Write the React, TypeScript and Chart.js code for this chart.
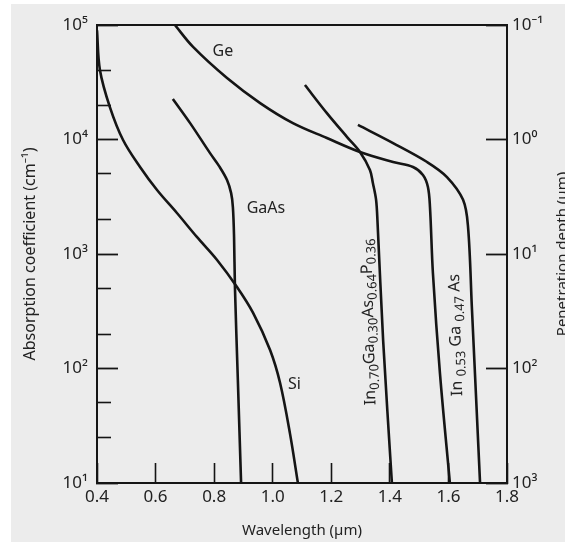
import React, { useEffect, useRef } from "react";
import { Chart, registerables } from "chart.js";

Chart.register(...registerables);

// ---- data (wavelength in µm, absorption coefficient in cm^-1) ----
const siX = [0.4, 0.41, 0.444, 0.489, 0.547, 0.605, 0.673, 0.741, 0.81, 0.878, 0.933, 0.991, 1.025, 1.059, 1.086];
const siY = [90000, 40500, 19200, 9900, 5750, 3620, 2280, 1410, 887, 515, 306, 145, 75, 27, 10];

const gaasX = [0.659, 0.718, 0.786, 0.817, 0.844, 0.858, 0.864, 0.868, 0.871, 0.881, 0.892];
const gaasY = [22600, 13900, 7600, 5860, 4430, 3400, 2570, 1410, 515, 79, 10];

const geX = [0.666, 0.728, 0.844, 0.957, 1.069, 1.185, 1.298, 1.411, 1.479, 1.513, 1.53, 1.537, 1.547, 1.571, 1.605];
const geY = [100000, 64300, 34400, 20800, 13900, 10300, 7780, 6360, 5750, 4900, 3850, 2570, 682, 91, 10];

const ingaaspX = [1.11, 1.185, 1.254, 1.298, 1.332, 1.342, 1.353, 1.358, 1.377, 1.407];
const ingaaspY = [29900, 17000, 10500, 7780, 5420, 4170, 2970, 1870, 177, 10];

const ingaasX = [1.291, 1.411, 1.527, 1.595, 1.65, 1.667, 1.68, 1.708];
const ingaasY = [13400, 9300, 6360, 4700, 2970, 1720, 344, 10];

// ---- axes ----
const xTickValues = [0.4, 0.6, 0.8, 1.0, 1.2, 1.4, 1.6, 1.8];
const yTickValues = [10, 100, 1000, 10000, 100000];
const yTickLabels = ["10¹", "10²", "10³", "10⁴", "10⁵"];
const yMinorValues = [25, 50, 200, 500, 2000, 5000, 20000, 40000];
const depthTickValues = [0.1, 1, 10, 100, 1000];
const depthTickLabels = ["10⁻¹", "10⁰", "10¹", "10²", "10³"];

// ---- curve labels ----
const labelParts: [string, number][][] = [
  [["Ge", 0]],
  [["GaAs", 0]],
  [["Si", 0]],
  [["In", 0], ["0.70", 1], ["Ga", 0], ["0.30", 1], ["As", 0], ["0.64", 1], ["P", 0], ["0.36", 1]],
  [["In ", 0], ["0.53", 1], [" Ga ", 0], ["0.47", 1], [" As", 0]],
];
const labelX = [0.83, 0.977, 1.074, 1.324, 1.622];
const labelY = [60000, 2550, 74, 255, 196];
const labelAngle = [0, 0, 0, -91.5, -91.5];

const FONT = "'Noto Sans', 'DejaVu Sans', sans-serif";
const INK = "#151515";
const TEXT = "#222222";

function toPoints(xs: number[], ys: number[]) {
  return xs.map((x, i) => ({ x, y: ys[i] }));
}

function noPad(s: any) {
  s.paddingTop = 0;
  s.paddingBottom = 0;
  s.paddingLeft = 0;
  s.paddingRight = 0;
}

export default function App() {
  const ref = useRef<HTMLCanvasElement>(null);

  useEffect(() => {
    document.body.style.margin = "0";
    const canvas = ref.current!;

    const bgPlugin = {
      id: "bg",
      beforeDraw(chart: any) {
        const { ctx, width, height } = chart;
        ctx.save();
        ctx.fillStyle = "#ffffff";
        ctx.fillRect(0, 0, width, height);
        ctx.fillStyle = "#ececec";
        ctx.fillRect(11, 4, width - 11, height - 4);
        ctx.restore();
      },
    };

    const labelPlugin = {
      id: "curveLabels",
      afterDatasetsDraw(chart: any) {
        const { ctx } = chart;
        const xs = chart.scales.x;
        const ys = chart.scales.y;
        labelParts.forEach((parts, i) => {
          const px = xs.getPixelForValue(labelX[i]);
          const py = ys.getPixelForValue(labelY[i]);
          ctx.save();
          ctx.translate(px, py);
          ctx.rotate((labelAngle[i] * Math.PI) / 180);
          ctx.fillStyle = TEXT;
          ctx.textAlign = "left";
          ctx.textBaseline = "alphabetic";
          let total = 0;
          const widths = parts.map(([t, sub]) => {
            ctx.font = `${sub ? 13 : 16}px ${FONT}`;
            const w = ctx.measureText(t).width;
            total += w;
            return w;
          });
          let cx = -total / 2;
          parts.forEach(([t, sub], j) => {
            ctx.font = `${sub ? 13 : 16}px ${FONT}`;
            ctx.fillText(t, cx, sub ? 9.7 : 5.7);
            cx += widths[j];
          });
          ctx.restore();
        });
      },
      afterDraw(chart: any) {
        const { ctx, chartArea } = chart;
        ctx.save();
        ctx.translate(567, (chartArea.top + chartArea.bottom) / 2);
        ctx.rotate(-Math.PI / 2);
        ctx.font = `15px ${FONT}`;
        ctx.fillStyle = TEXT;
        ctx.textAlign = "center";
        ctx.textBaseline = "alphabetic";
        ctx.fillText("Penetration depth (µm)", 0, 0);
        ctx.restore();
      },
    };

    const lineDs = (label: string, xs: number[], ys: number[]) => ({
      label,
      data: toPoints(xs, ys),
      borderColor: INK,
      borderWidth: 2.6,
      pointRadius: 0,
      tension: 0.35,
      xAxisID: "x",
      yAxisID: "y",
    });

    const chart = new Chart(canvas, {
      type: "line",
      data: {
        datasets: [
          lineDs("Si", siX, siY),
          lineDs("GaAs", gaasX, gaasY),
          lineDs("Ge", geX, geY),
          lineDs("In0.70Ga0.30As0.64P0.36", ingaaspX, ingaaspY),
          lineDs("In0.53Ga0.47As", ingaasX, ingaasY),
        ],
      },
      options: {
        animation: false,
        responsive: false,
        layout: { padding: 0 },
        plugins: { legend: { display: false }, tooltip: { enabled: false } },
        font: { family: FONT },
        scales: {
          x: {
            type: "linear",
            position: "bottom",
            min: 0.4,
            max: 1.8,
            afterFit: (s: any) => {
              s.height = 59;
              noPad(s);
            },
            afterBuildTicks: (s: any) => {
              s.ticks = xTickValues.map((v) => ({ value: v }));
            },
            ticks: {
              autoSkip: false,
              maxRotation: 0,
              padding: 24,
              color: TEXT,
              font: { family: FONT, size: 17 },
              callback: (v: any) => Number(v).toFixed(1),
            },
            grid: { display: true, drawOnChartArea: false, drawTicks: true, tickLength: -20, tickWidth: 1.6, tickColor: INK },
            border: { display: true, width: 2, color: INK },
            title: {
              display: true,
              text: "Wavelength (µm)",
              color: TEXT,
              font: { family: FONT, size: 15 },
              padding: { top: 0, bottom: 2 },
            },
          },
          xTop: {
            type: "linear",
            position: "top",
            min: 0.4,
            max: 1.8,
            afterFit: (s: any) => {
              s.height = 25;
              noPad(s);
            },
            ticks: { display: false },
            grid: { display: false },
            border: { display: true, width: 2, color: INK },
          },
          y: {
            type: "logarithmic",
            position: "left",
            weight: 10,
            min: 10,
            max: 100000,
            afterFit: (s: any) => {
              s.width = 97;
              noPad(s);
            },
            afterBuildTicks: (s: any) => {
              s.ticks = yTickValues.map((v) => ({ value: v }));
            },
            ticks: {
              autoSkip: false,
              padding: 30,
              color: TEXT,
              font: { family: FONT, size: 17 },
              callback: (_v: any, i: number) => yTickLabels[i],
            },
            grid: { display: true, drawOnChartArea: false, drawTicks: true, tickLength: -21, tickWidth: 1.8, tickColor: INK },
            border: { display: true, width: 2, color: INK },
            title: {
              display: true,
              text: "Absorption coefficient (cm⁻¹)",
              color: TEXT,
              font: { family: FONT, size: 16 },
              padding: { top: 21, bottom: 0 },
            },
          },
          yMinor: {
            type: "logarithmic",
            position: "left",
            weight: 0,
            min: 10,
            max: 100000,
            afterFit: (s: any) => {
              s.width = 0;
              noPad(s);
            },
            afterBuildTicks: (s: any) => {
              s.ticks = yMinorValues.map((v) => ({ value: v }));
            },
            ticks: { display: false },
            grid: { display: true, drawOnChartArea: false, drawTicks: true, tickLength: -14, tickWidth: 1.6, tickColor: INK },
            border: { display: false },
          },
          yDepth: {
            type: "logarithmic",
            position: "right",
            reverse: true,
            min: 0.1,
            max: 1000,
            afterFit: (s: any) => {
              s.width = 58;
              noPad(s);
            },
            afterBuildTicks: (s: any) => {
              s.ticks = depthTickValues.map((v) => ({ value: v }));
            },
            ticks: {
              autoSkip: false,
              padding: 26,
              color: TEXT,
              font: { family: FONT, size: 17 },
              callback: (_v: any, i: number) => depthTickLabels[i],
            },
            grid: { display: true, drawOnChartArea: false, drawTicks: true, tickLength: -21, tickWidth: 1.8, tickColor: INK },
            border: { display: true, width: 2, color: INK },
          },
        },
      } as any,
      plugins: [bgPlugin, labelPlugin],
    });

    return () => chart.destroy();
  }, []);

  return (
    <div style={{ width: 565, height: 542, position: "relative" }}>
      <canvas ref={ref} width={565} height={542} style={{ display: "block", width: 565, height: 542 }} />
    </div>
  );
}
